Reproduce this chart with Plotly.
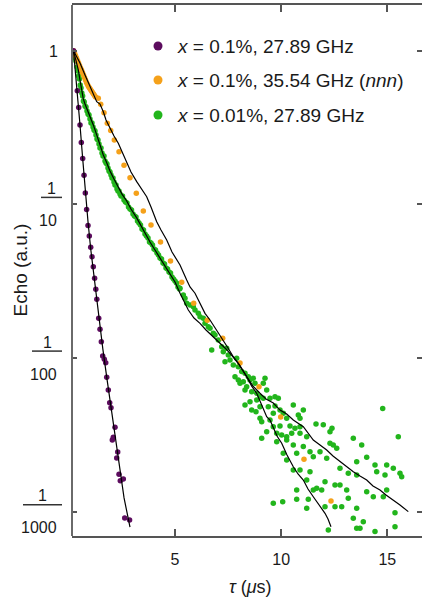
import plotly.graph_objects as go
import numpy as np

# ---------------- data ----------------
# echo values stored as log10(echo)
purple_t = [0.219,0.398,0.464,0.525,0.586,0.652,0.714,0.775,0.836,0.902,
            0.963,1.029,1.091,1.152,1.213,1.269,1.317,1.406,1.467,1.529,
            1.594,1.670,1.736,1.783,1.858,1.924,1.985,2.047,2.094,2.174,
            2.254,2.301,2.362,2.423,2.565,2.631,2.859]
purple_log_echo = [0.0,-0.260,-0.370,-0.483,-0.598,-0.701,-0.810,-0.926,-1.034,-1.137,
                   -1.206,-1.279,-1.340,-1.405,-1.481,-1.552,-1.617,-1.741,-1.813,-1.893,
                   -1.986,-2.008,-2.030,-2.125,-2.208,-2.290,-2.323,-2.533,-2.515,-2.450,
                   -2.650,-2.611,-2.756,-2.798,-2.787,-3.040,-3.053]

orange_t = [0.219,0.266,0.313,0.360,0.407,0.455,0.502,0.549,0.596,0.643,
            0.690,0.737,0.784,0.831,0.878,0.926,0.973,1.020,1.067,1.114,
            1.161,1.208,1.255,1.387,1.500,1.656,1.811,1.971,2.141,2.362,
            2.598,2.880,3.177,3.507,3.870,4.317,4.788,5.316,5.881,6.521,
            7.247,8.062,8.957,9.979,11.076,12.348]
orange_log_echo = [0.0,-0.015,-0.031,-0.047,-0.064,-0.080,-0.096,-0.113,-0.126,-0.142,
                   -0.158,-0.174,-0.191,-0.207,-0.220,-0.233,-0.243,-0.252,-0.262,-0.272,
                   -0.282,-0.291,-0.301,-0.310,-0.349,-0.403,-0.472,-0.520,-0.581,-0.657,
                   -0.746,-0.826,-0.928,-1.043,-1.134,-1.245,-1.368,-1.507,-1.643,-1.754,
                   -1.871,-2.032,-2.186,-2.383,-2.658,-2.930]

green_t = [0.243,0.290,0.337,0.384,0.422,0.459,0.497,0.535,0.572,0.610,
           0.648,0.685,0.723,0.761,0.808,0.855,0.902,0.949,0.996,1.043,
           1.090,1.138,1.185,1.232,1.279,1.326,1.373,1.420,1.467,1.514,
           1.561,1.609,1.656,1.703,1.750,1.797,1.844,1.891,1.938,1.985,
           2.032,2.080,2.127,2.174,2.221,2.268,2.315,2.362,2.409,2.456,
           2.527,2.598,2.668,2.739,2.810,2.880,2.951,3.022,3.092,3.163,
           3.234,3.304,3.375,3.446,3.516,3.587,3.658,3.728,3.799,3.870,
           3.940,4.011,4.082,4.152,4.223,4.293,4.364,4.435,4.505,4.576,
           4.647,4.717,4.788,4.859,4.929,5.000,5.071,5.141,5.212,
           5.236,5.391,5.471,5.551,5.707,5.862,5.942,6.098,6.178,6.333,
           6.413,6.569,6.649,6.804,6.884,6.729,7.040,7.200,7.275,7.435,
           7.511,7.591,7.355,7.746,7.906,7.982,8.142,8.297,8.453,8.533,
           8.688,8.768,7.826,7.982,8.062,8.217,8.377,8.297,8.613,8.848,
           9.004,9.240,9.159,9.319,9.475,8.848,8.533,8.297,8.613,9.004,
           9.395,9.710,9.866,9.946,9.630,10.101,10.261,10.808,10.888,11.044,
           14.784,9.710,8.815,9.004,9.084,9.475,9.630,9.946,10.417,10.652,
           11.642,11.985,12.395,9.159,10.572,10.888,9.084,9.319,9.791,10.026,
           10.261,10.497,10.888,11.204,9.791,10.261,10.572,11.044,10.732,11.359,
           11.514,11.830,10.101,10.261,10.888,10.572,11.359,11.204,11.514,11.675,
           11.910,12.066,12.146,12.301,12.456,12.617,12.301,13.399,13.794,13.559,
           14.030,12.772,13.163,13.559,12.537,12.772,13.088,14.030,14.421,14.501,
           14.892,14.972,15.283,15.598,15.678,15.518,14.972,14.812,14.341,13.163,
           13.559,12.852,13.399,13.559,13.714,13.870,14.421,15.363,15.363,11.204,
           10.732,11.279,9.630,10.073,10.732,12.066,12.221,12.537]
green_log_echo = [-0.008,-0.047,-0.067,-0.106,-0.132,-0.165,-0.184,-0.223,-0.243,-0.275,
                  -0.295,-0.327,-0.334,-0.360,-0.366,-0.392,-0.412,-0.418,-0.444,-0.470,
                  -0.470,-0.496,-0.516,-0.523,-0.548,-0.574,-0.581,-0.607,-0.633,-0.633,
                  -0.666,-0.685,-0.685,-0.718,-0.731,-0.737,-0.763,-0.783,-0.789,-0.809,
                  -0.829,-0.829,-0.854,-0.874,-0.874,-0.900,-0.913,-0.913,-0.932,-0.945,
                  -0.945,-0.971,-0.984,-0.991,-1.017,-1.030,-1.036,-1.062,-1.075,-1.082,
                  -1.108,-1.121,-1.134,-1.160,-1.166,-1.193,-1.206,-1.219,-1.245,-1.251,
                  -1.264,-1.290,-1.297,-1.316,-1.329,-1.349,-1.355,-1.381,-1.388,-1.414,
                  -1.420,-1.440,-1.446,-1.472,-1.485,-1.498,-1.511,-1.537,-1.550,
                  -1.546,-1.589,-1.611,-1.643,-1.655,-1.666,-1.687,-1.709,-1.731,-1.741,
                  -1.774,-1.796,-1.806,-1.839,-1.850,-1.947,-1.882,-1.926,-1.958,-1.936,
                  -1.980,-2.012,-2.023,-2.045,-2.001,-2.056,-2.088,-2.099,-2.121,-2.142,
                  -2.131,-2.164,-2.121,-2.142,-2.164,-2.154,-2.186,-2.208,-2.219,-2.229,
                  -2.251,-2.131,-2.164,-2.208,-2.262,-2.273,-2.284,-2.305,-2.338,-2.316,
                  -2.316,-2.251,-2.262,-2.338,-2.359,-2.359,-2.392,-2.370,-2.392,-2.338,
                  -2.328,-2.312,-2.349,-2.392,-2.414,-2.403,-2.446,-2.442,-2.442,-2.457,
                  -2.429,-2.433,-2.457,-2.262,-2.305,-2.446,-2.522,-2.479,-2.489,-2.500,
                  -2.511,-2.489,-2.489,-2.511,-2.544,-2.533,-2.565,-2.576,-2.619,-2.609,
                  -2.642,-2.609,-2.619,-2.663,-2.728,-2.728,-2.739,-2.793,-2.858,-2.847,
                  -2.858,-2.804,-2.652,-2.554,-2.565,-2.587,-2.479,-2.522,-2.565,-2.674,
                  -2.645,-2.717,-2.750,-2.761,-2.826,-2.826,-2.858,-2.869,-2.696,-2.739,
                  -2.761,-2.696,-2.717,-2.750,-2.772,-2.511,-2.858,-2.902,-2.902,-2.912,
                  -2.977,-2.967,-3.042,-3.107,-3.107,-3.064,-3.129,-3.006,-3.097,-2.977,
                  -2.919,-2.919,-2.945,-2.934,-2.858,-2.967,-3.118,-2.967]

# fitted curves (black lines)
fit_purple_t = [0.219,0.30,0.40,0.52,0.65,0.78,0.90,1.03,1.15,1.30,1.45,1.60,1.80,2.00,2.20,2.40,2.60,2.88]
fit_purple_log = [0.0,-0.12,-0.26,-0.475,-0.70,-0.925,-1.11,-1.29,-1.43,-1.60,-1.78,-1.94,-2.14,-2.33,-2.52,-2.72,-2.91,-3.10]

fit_a_t = [0.219,0.337,0.525,0.761,0.996,1.152,1.312,1.467,1.623,1.750,1.938,2.127,2.329,2.504,2.725,
           2.927,3.196,3.399,3.667,3.870,4.138,4.341,4.609,4.859,5.236,5.551,5.707,5.942,6.178,6.413,
           6.649,6.964,7.275,7.497,7.746,8.062,8.377,8.674,9.004,9.287,9.630,9.946,10.261,10.572,11.044,
           11.514,11.830,12.146,12.442,12.772,13.055,13.399,13.714,14.030,14.326,14.656,14.939,15.283,15.598,15.989]
fit_a_log = [0.0,-0.028,-0.080,-0.158,-0.230,-0.288,-0.332,-0.347,-0.397,-0.451,-0.505,-0.555,-0.602,-0.659,-0.733,
             -0.789,-0.852,-0.893,-0.950,-1.017,-1.113,-1.167,-1.232,-1.310,-1.394,-1.492,-1.537,-1.578,-1.642,-1.709,
             -1.752,-1.817,-1.882,-1.934,-1.991,-2.051,-2.121,-2.182,-2.229,-2.266,-2.292,-2.338,-2.364,-2.403,-2.446,
             -2.533,-2.565,-2.598,-2.637,-2.674,-2.702,-2.739,-2.767,-2.793,-2.832,-2.858,-2.891,-2.923,-2.956,-2.999]

fit_b_t = [0.219,0.290,0.360,0.445,0.525,0.605,0.681,0.761,0.841,0.996,1.152,1.312,1.467,1.623,1.750,
           1.938,2.127,2.329,2.504,2.725,2.927,3.196,3.399,3.587,3.822,4.058,4.293,4.529,4.765,5.000,
           5.236,5.424,5.627,5.895,6.178,6.460,6.804,7.120,7.355,7.591,7.982,8.377,8.613,8.848,9.051,
           9.319,9.475,9.630,9.805,10.026,10.276,10.572,10.794,11.044,11.265,11.514,11.783,12.066,12.207,12.348]
fit_b_log = [0.0,-0.034,-0.074,-0.125,-0.191,-0.256,-0.314,-0.347,-0.373,-0.431,-0.483,-0.548,-0.614,-0.679,-0.718,
             -0.783,-0.835,-0.893,-0.933,-0.978,-1.030,-1.088,-1.140,-1.193,-1.245,-1.297,-1.349,-1.401,-1.446,-1.505,
             -1.578,-1.635,-1.687,-1.739,-1.774,-1.817,-1.861,-1.904,-1.934,-1.969,-2.034,-2.121,-2.182,-2.229,-2.292,
             -2.381,-2.403,-2.455,-2.507,-2.554,-2.630,-2.707,-2.754,-2.793,-2.852,-2.902,-2.956,-3.010,-3.047,-3.097]

series_names = ["<i>x</i> = 0.1%, 27.89 GHz",
                "<i>x</i> = 0.1%, 35.54 GHz (<i>nnn</i>)",
                "<i>x</i> = 0.01%, 27.89 GHz"]
x_tick_values = [5, 10, 15]
y_tick_values = [1, 0.1, 0.01, 0.001]
y_tick_numerators = ["1", "1", "1", "1"]
y_tick_denominators = ["", "10", "100", "1000"]
x_title = "<i>τ</i> (<i>μ</i>s)"
y_title = "Echo (a.u.)"

# ---------------- styling ----------------
PURPLE = "#5c0c5e"
ORANGE = "#f5a11a"
GREEN = "#22b51c"
FONT = "Liberation Sans, Arial, sans-serif"
TXT = "#1a1a1a"
AX = "#555555"
X_RANGE = [0.148, 16.635]
Y_RANGE_LOG = [-3.1575, 0.2973]

def to_echo(v):
    return list(10 ** np.asarray(v, dtype=float))

fig = go.Figure()
msize = 5.5
fig.add_trace(go.Scatter(x=green_t, y=to_echo(green_log_echo), mode="markers",
                         marker=dict(color=GREEN, size=msize), showlegend=False))
fig.add_trace(go.Scatter(x=orange_t, y=to_echo(orange_log_echo), mode="markers",
                         marker=dict(color=ORANGE, size=msize), showlegend=False))
fig.add_trace(go.Scatter(x=purple_t, y=to_echo(purple_log_echo), mode="markers",
                         marker=dict(color=PURPLE, size=msize), showlegend=False))
for tt, ll in [(fit_purple_t, fit_purple_log), (fit_a_t, fit_a_log), (fit_b_t, fit_b_log)]:
    fig.add_trace(go.Scatter(x=tt, y=to_echo(ll), mode="lines",
                             line=dict(color="black", width=1.2), showlegend=False))

W, H = 422, 603
ml, mr, mt, mb = 72, 0, 5, 67
fig.update_layout(
    width=W, height=H,
    margin=dict(l=ml, r=mr, t=mt, b=mb, pad=0),
    paper_bgcolor="white", plot_bgcolor="white",
    font=dict(family=FONT, size=16, color=TXT),
    showlegend=False,
)
fig.update_xaxes(range=X_RANGE, tickvals=x_tick_values,
                 ticktext=[str(v) for v in x_tick_values],
                 ticks="inside", ticklen=7, tickwidth=1.5, tickcolor=AX,
                 showline=True, linecolor=AX, linewidth=1.5, mirror="ticks",
                 showgrid=False, zeroline=False,
                 tickfont=dict(size=16, color=TXT), ticklabelstandoff=8)
fig.update_yaxes(type="log", range=Y_RANGE_LOG, tickvals=y_tick_values,
                 showticklabels=False,
                 ticks="inside", ticklen=5, tickwidth=1.5, tickcolor=AX,
                 showline=False, mirror="ticks",
                 showgrid=False, zeroline=False)

# left axis line
fig.add_shape(type="line", xref="paper", yref="paper", x0=0, x1=0, y0=0, y1=1,
              line=dict(color="#6a6a6a", width=2))

# y tick labels as fractions
bar_left_px = {"": 0, "10": -31, "100": -40, "1000": -49}
for v, num, den in zip(y_tick_values, y_tick_numerators, y_tick_denominators):
    yl = float(np.log10(v))
    yp = (yl - Y_RANGE_LOG[0]) / (Y_RANGE_LOG[1] - Y_RANGE_LOG[0])
    if den == "":
        fig.add_annotation(x=0, xref="paper", y=yp, yref="paper", text=num, showarrow=False,
                           xanchor="right", yanchor="middle", xshift=-12, yshift=-1,
                           font=dict(size=16, color=TXT))
        continue
    x0 = bar_left_px[den]
    x1 = -10
    fig.add_shape(type="line", xref="paper", yref="paper", xsizemode="pixel", ysizemode="pixel",
                  xanchor=0, yanchor=yp, x0=x0, x1=x1, y0=7, y1=7,
                  line=dict(color="#333333", width=1.5))
    fig.add_annotation(x=0, xref="paper", y=yp, yref="paper", text=num, showarrow=False,
                       xanchor="center", yanchor="middle", xshift=(x0 + x1) / 2, yshift=16,
                       font=dict(size=16, color=TXT))
    fig.add_annotation(x=0, xref="paper", y=yp, yref="paper", text=den, showarrow=False,
                       xanchor="right", yanchor="middle", xshift=-13, yshift=-16,
                       font=dict(size=16, color=TXT))

# axis titles
fig.add_annotation(x=0.511, xref="paper", y=0, yref="paper", text=x_title, showarrow=False,
                   xanchor="center", yanchor="middle", yshift=-51, font=dict(size=18, color=TXT))
fig.add_annotation(x=0, xref="paper", y=0.5, yref="paper", text=y_title, showarrow=False,
                   textangle=-90, xanchor="center", yanchor="middle", xshift=-52,
                   font=dict(size=19, color=TXT))

# legend (custom)
leg_x = (158 - ml) / (W - ml - mr)
leg_rows_px = [46, 80, 115]
plot_h = H - mt - mb
for name, col, py in zip(series_names, [PURPLE, ORANGE, GREEN], leg_rows_px):
    yp = (H - mb - py) / plot_h
    fig.add_shape(type="circle", xref="paper", yref="paper", xsizemode="pixel", ysizemode="pixel",
                  xanchor=leg_x, yanchor=yp, x0=-4.5, x1=4.5, y0=-4.5, y1=4.5,
                  fillcolor=col, line=dict(width=0))
    fig.add_annotation(x=leg_x, xref="paper", y=yp, yref="paper", text=name, showarrow=False,
                       xanchor="left", yanchor="middle", xshift=17, font=dict(size=19, color=TXT))

fig.write_html("out.html", config={"displayModeBar": False},
               post_script="document.body.style.margin='0';document.body.style.overflow='hidden';")
